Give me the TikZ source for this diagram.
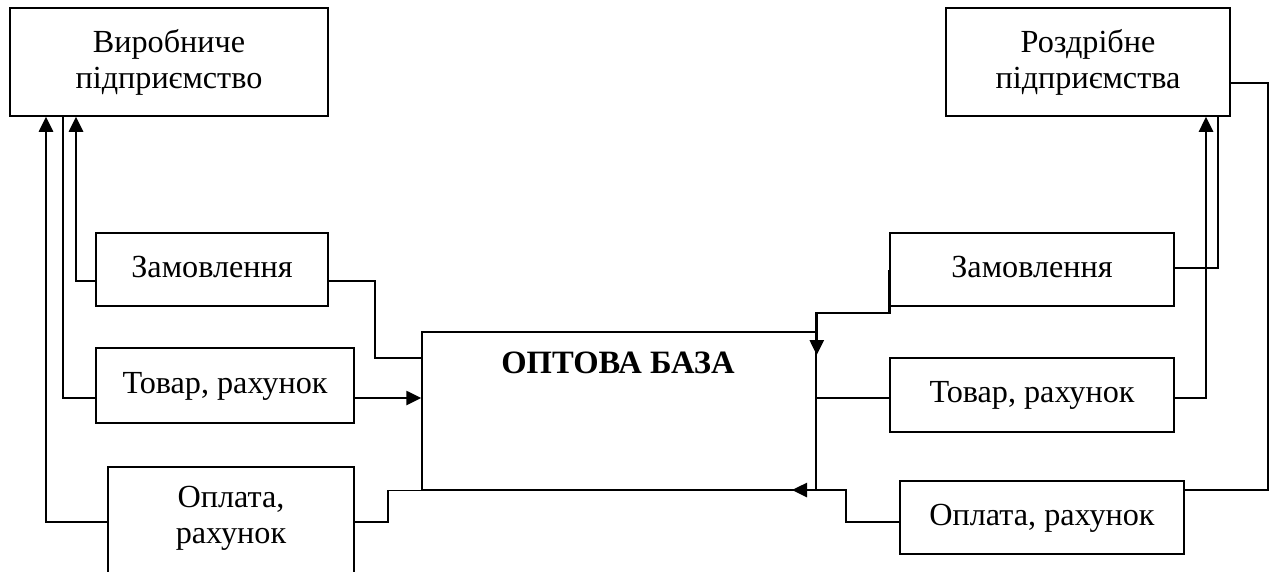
\documentclass[tikz,border=0pt]{standalone}
\usepackage{fontspec}
\setmainfont{Liberation Serif}
\usetikzlibrary{arrows.meta}
\begin{document}
\begin{tikzpicture}[x=1pt,y=-1pt,
  box/.style={draw,line width=1.5pt,inner sep=0pt,align=center,font=\fontsize{32.2}{36}\selectfont},
  one/.style={text height=22pt,text depth=7pt},
  txt/.style={inner sep=0pt,align=center,font=\fontsize{32.2}{36}\selectfont},
  thinln/.style={line width=1.4pt},
  thickln/.style={line width=2.6pt},
  arr/.style={-{Triangle[length=15pt,width=14pt]}}
]
\useasboundingbox (0,0) rectangle (1276,571);
\clip (0,0) rectangle (1276,571);
% boxes
\node[box,minimum width=318pt,minimum height=108pt] (vy) at (169,62) {Виробниче\\підприємство};
\node[box,minimum width=284pt,minimum height=108pt] (roz) at (1088,62) {Роздрібне\\підприємства};
\node[box,one,minimum width=232pt,minimum height=73pt] (zamL) at (212,269.5) {Замовлення};
\node[box,one,minimum width=258pt,minimum height=75pt] (tovL) at (225,385.5) {Товар, рахунок};
\node[box,minimum width=246pt,minimum height=133pt] (oplL) at (231,533.5) {};
\node[txt] (oplLt) at (231,518) {Оплата,\\рахунок};
\node[box,minimum width=394pt,minimum height=158pt] (main) at (619,411) {};
\node[txt,font=\fontsize{32.6}{36}\selectfont\bfseries] (title) at (618,363) {ОПТОВА БАЗА};
\node[box,one,minimum width=284pt,minimum height=73pt] (zamR) at (1032,269.5) {Замовлення};
\node[box,one,minimum width=284pt,minimum height=74pt] (tovR) at (1032,395) {Товар, рахунок};
\node[box,one,minimum width=284pt,minimum height=73pt] (oplR) at (1042,517.5) {Оплата, рахунок};
\coordinate (tipR) at (792,490);
% left connectors
\draw[thinln] (63,0 |- vy.south) |- (tovL.west |- 0,398);
\draw[thickln,arr] (tovL.east |- 0,398) -- (main.west |- 0,398);
\draw[thinln] (main.west |- 0,358) -| (375,281) -- (zamL.east |- 0,281);
\draw[thickln,arr] (zamL.west |- 0,281) -| (76,0 |- vy.south);
\draw[thinln] (main.south west) -| (388,522) -- (oplL.east |- 0,522);
\draw[thickln,arr] (oplL.west |- 0,522) -| (46,0 |- vy.south);
% right connectors
\draw[thinln] (1218,0 |- roz.south) |- (zamR.east |- 0,268);
\draw[thickln,arr] (zamR.west) -- (zamR.west |- 0,313) -| (main.east |- 0,355);
\draw[thinln] (main.east |- 0,398) -- (tovR.west |- 0,398);
\draw[thickln,arr] (tovR.east |- 0,398) -| (1206,0 |- roz.south);
\draw[thinln] (roz.east |- 0,83) -| (1268,490) -- (oplR.east |- 0,490);
\draw[thickln,arr] (oplR.west |- 0,522) -| (846,490) -- (tipR);
\end{tikzpicture}
\end{document}
